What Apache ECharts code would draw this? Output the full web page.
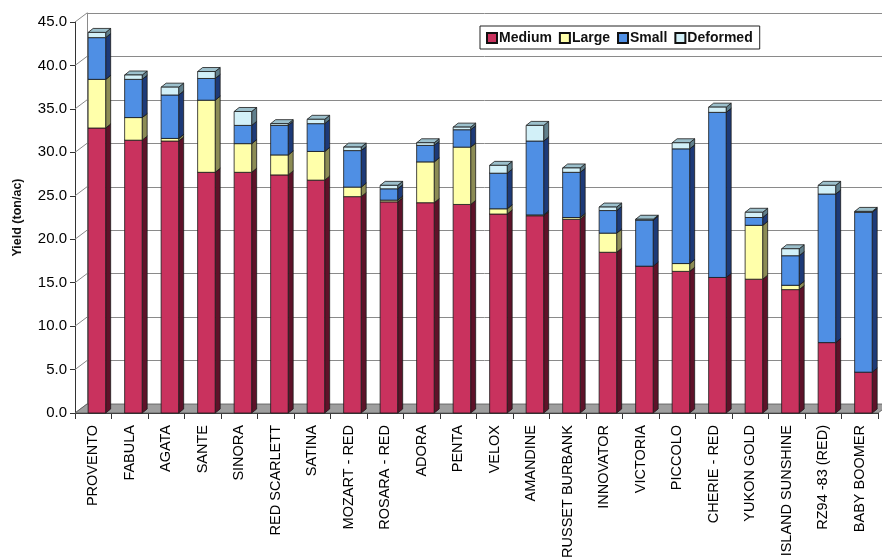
<!DOCTYPE html>
<html>
<head>
<meta charset="utf-8">
<script src="https://cdn.jsdelivr.net/npm/echarts@6/dist/echarts.min.js"></script>
<style>
  html, body { margin: 0; padding: 0; background: #fff; }
  #chart { width: 882px; height: 558px; }
</style>
</head>
<body>
<div id="chart"></div>
<script>
// Potato variety trial: yield by grade (ton/ac)
const categories = ['PROVENTO', 'FABULA', 'AGATA', 'SANTE', 'SINORA', 'RED SCARLETT', 'SATINA',
  'MOZART - RED', 'ROSARA - RED', 'ADORA', 'PENTA', 'VELOX', 'AMANDINE', 'RUSSET BURBANK',
  'INNOVATOR', 'VICTORIA', 'PICCOLO', 'CHERIE - RED', 'YUKON GOLD', 'ISLAND SUNSHINE',
  'RZ94 -83 (RED)', 'BABY BOOMER'];

const medium   = [32.8, 31.4, 31.3, 27.7, 27.7, 27.4, 26.8, 24.9, 24.3, 24.2, 24.0, 22.9, 22.7, 22.3, 18.5, 16.9, 16.3, 15.6, 15.4, 14.2, 8.1, 4.7];
const large    = [5.6, 2.6, 0.3, 8.3, 3.3, 2.3, 3.3, 1.1, 0.2, 4.7, 6.6, 0.6, 0.1, 0.2, 2.2, 0.0, 0.9, 0.0, 6.2, 0.5, 0.0, 0.0];
const small    = [4.8, 4.4, 5.0, 2.5, 2.1, 3.4, 3.2, 4.2, 1.3, 1.9, 2.0, 4.1, 8.5, 5.2, 2.6, 5.3, 13.2, 19.0, 0.9, 3.4, 17.1, 18.4];
const deformed = [0.6, 0.5, 0.9, 0.8, 1.6, 0.2, 0.5, 0.4, 0.4, 0.3, 0.3, 0.9, 1.8, 0.5, 0.4, 0.1, 0.7, 0.6, 0.6, 0.8, 1.0, 0.1];

const yMin = 0, yMax = 45, yStep = 5;
const yTicks = [0, 5, 10, 15, 20, 25, 30, 35, 40, 45];

// depth of the pseudo-3D box (back wall offset) and of each column
const WALL_DX = 12, WALL_DY = 9;
const BAR_DX = 5, BAR_DY = 4;

const grades = [
  { name: 'Medium',   values: medium,   front: '#c9325e', side: '#5e1229', top: '#8a2040' },
  { name: 'Large',    values: large,    front: '#ffffaa', side: '#8c8c55', top: '#c8c880' },
  { name: 'Small',    values: small,    front: '#4f8fe4', side: '#1d3a78', top: '#2f5aa8' },
  { name: 'Deformed', values: deformed, front: '#d2f0f8', side: '#607f8c', top: '#9cc0cc' }
];

function columnRenderer(g) {
  return function (params, api) {
    const lo = api.value(1), hi = api.value(2);
    if (hi - lo <= 0) return null;
    const ci = api.value(0);
    const pLo = api.coord([ci, lo]);
    const pHi = api.coord([ci, hi]);
    const band = api.size([1, 0])[0];
    const w = band * 0.48;
    const x0 = pLo[0] - w / 2 + band * 0.1;
    const x1 = x0 + w;
    const yb = pLo[1], yt = pHi[1];
    const stroke = { stroke: '#1a1a1a', lineWidth: 0.8 };
    return {
      type: 'group',
      children: [
        { type: 'polygon', shape: { points: [[x1, yb], [x1 + BAR_DX, yb - BAR_DY], [x1 + BAR_DX, yt - BAR_DY], [x1, yt]] },
          style: Object.assign({ fill: g.side }, stroke) },
        { type: 'polygon', shape: { points: [[x0, yt], [x0 + BAR_DX, yt - BAR_DY], [x1 + BAR_DX, yt - BAR_DY], [x1, yt]] },
          style: Object.assign({ fill: g.top }, stroke) },
        { type: 'rect', shape: { x: x0, y: yt, width: w, height: yb - yt },
          style: Object.assign({ fill: g.front }, stroke) }
      ]
    };
  };
}

// stack the grades on top of each other
const running = categories.map(() => 0);
const columnSeries = grades.map(g => {
  const data = categories.map((c, i) => {
    const base = running[i];
    running[i] += g.values[i];
    return [i, base, running[i]];
  });
  return {
    name: g.name,
    type: 'custom',
    xAxisIndex: 0, yAxisIndex: 0,
    z: 5,
    itemStyle: { color: g.front, borderColor: '#111', borderWidth: 1 },
    encode: { x: 0, y: [1, 2] },
    renderItem: columnRenderer(g),
    data: data
  };
});

// floor of the box and the diagonal gridlines on its left wall
const floorSeries = {
  type: 'custom',
  xAxisIndex: 0, yAxisIndex: 0,
  z: 2, silent: true,
  renderItem: function (params, api) {
    const cs = params.coordSys;
    const y0 = api.coord([0, 0])[1];
    return {
      type: 'polygon',
      shape: { points: [[cs.x, y0], [cs.x + WALL_DX, y0 - WALL_DY], [cs.x + cs.width + WALL_DX, y0 - WALL_DY], [cs.x + cs.width, y0]] },
      style: { fill: '#9e9e9e', stroke: '#555', lineWidth: 0.8 }
    };
  },
  data: [[0, 0]]
};

const wallSeries = {
  type: 'custom',
  xAxisIndex: 0, yAxisIndex: 0,
  z: 1, silent: true,
  renderItem: function (params, api) {
    const cs = params.coordSys;
    const y = api.coord([0, api.value(1)])[1];
    return {
      type: 'line',
      shape: { x1: cs.x, y1: y, x2: cs.x + WALL_DX, y2: y - WALL_DY },
      style: { stroke: '#8a8a8a', lineWidth: 1 }
    };
  },
  data: yTicks.map(v => [0, v])
};

const chart = echarts.init(document.getElementById('chart'), null, { renderer: 'canvas' });

chart.setOption({
  animation: false,
  backgroundColor: '#ffffff',
  textStyle: { fontFamily: 'Liberation Sans, Arial, sans-serif' },
  legend: {
    data: grades.map(g => g.name),
    left: 480, top: 26,
    orient: 'horizontal',
    backgroundColor: '#fff',
    borderColor: '#222', borderWidth: 1,
    padding: [5, 7, 4, 6],
    itemGap: 7,
    itemWidth: 10, itemHeight: 10,
    icon: 'rect',
    textStyle: { fontSize: 14, fontWeight: 'bold', color: '#111', padding: [0, 0, 0, -3] }
  },
  grid: [
    // front plane: columns and axes
    { left: 75, right: 4, top: 22, bottom: 145, outerBoundsMode: 'none', containLabel: false },
    // back wall: gridlines
    { left: 75 + WALL_DX, right: 0, top: 22 - WALL_DY, bottom: 145 + WALL_DY, outerBoundsMode: 'none', containLabel: false }
  ],
  xAxis: [
    {
      type: 'category', gridIndex: 0, data: categories,
      axisLine: { show: true, lineStyle: { color: '#333', width: 1 } },
      axisTick: { show: true, length: 6, lineStyle: { color: '#333' } },
      axisLabel: { interval: 0, rotate: 90, fontSize: 14.5, color: '#000', margin: 12 },
      splitLine: { show: false }
    },
    {
      type: 'category', gridIndex: 1, data: categories,
      show: false
    }
  ],
  yAxis: [
    {
      type: 'value', gridIndex: 0, min: yMin, max: yMax, interval: yStep,
      axisLine: { show: true, lineStyle: { color: '#333' } },
      axisTick: { show: true, length: 5, lineStyle: { color: '#333' } },
      axisLabel: { fontSize: 15, color: '#000', margin: 8, formatter: v => v.toFixed(1) },
      splitLine: { show: false },
      name: 'Yield (ton/ac)',
      nameLocation: 'middle',
      nameGap: 51,
      nameTextStyle: { fontSize: 12.5, fontWeight: 'bold', color: '#111' }
    },
    {
      type: 'value', gridIndex: 1, min: yMin, max: yMax, interval: yStep,
      axisLine: { show: true, lineStyle: { color: '#8a8a8a' } },
      axisTick: { show: false },
      axisLabel: { show: false },
      splitLine: { show: true, lineStyle: { color: '#8a8a8a', width: 1 } }
    }
  ],
  series: [wallSeries, floorSeries].concat(columnSeries)
});
</script>
</body>
</html>
